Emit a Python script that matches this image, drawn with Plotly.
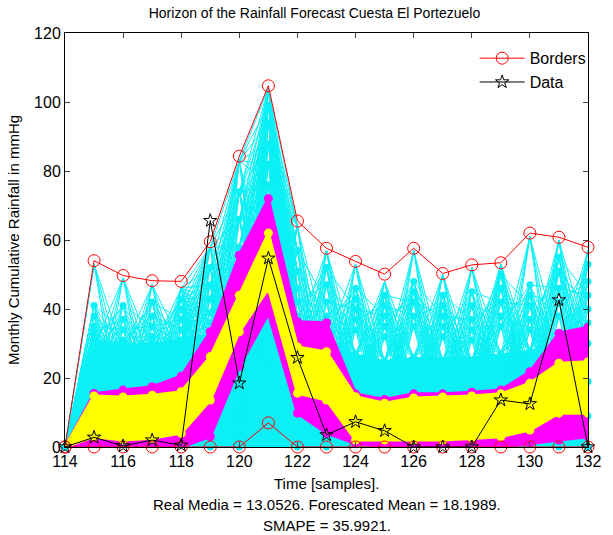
import plotly.graph_objects as go

# ---------------- data ----------------
x = list(range(114, 133))
upper_border = [0, 54.0, 49.7, 48.2, 48.0, 59.5, 84.3, 104.7, 65.5, 57.6, 53.8, 50.1, 57.6, 50.3, 52.8, 53.4, 62.0, 60.8, 57.9]
lower_border = [0, 0, 0, 0, 0, 0, 0, 7.0, 0, 0, 0, 0, 0, 0, 0, 0, 0, 0, 0]
data = [0, 2.8, 0.3, 2.0, 0.5, 65.6, 18.5, 54.7, 25.9, 3.5, 7.3, 4.7, 0, 0, 0, 13.6, 12.5, 42.6, 0]

mag_top = [0, 15.5, 16.5, 17.5, 20.5, 33.4, 55.6, 72.0, 36.3, 36.0, 15.4, 13.8, 15.4, 15.4, 15.9, 16.5, 21.8, 33.0, 34.7]
mag_bot = [0, 0, 0, 0, 0, 3.0, 23.3, 38.7, 9.8, 4.0, 1.0, 0, 0, 0, 0, 0, 1.0, 2.0, 3.0]
yel_top = [0, 14.8, 14.5, 15.0, 16.0, 26.2, 44.0, 62.0, 29.0, 27.6, 14.6, 12.7, 14.2, 14.5, 14.8, 15.4, 18.5, 24.3, 24.7]
yel_bot = [0, 3.0, 2.0, 2.5, 4.0, 13.6, 33.4, 46.0, 15.6, 13.6, 2.0, 2.0, 2.0, 2.0, 2.5, 3.0, 4.9, 9.8, 9.8]

cyan_fill_top = [0, 31, 30, 30, 31, 33, 30, 45, 34, 31, 27, 25, 26, 26, 26, 27, 28, 30, 31]
cyan_peaks = [
    [0, 0, 0, 0, 0, 0],
    [53, 41, 38, 35, 33, 31],
    [49, 41, 37, 34, 31, 29],
    [47, 42, 38, 35, 32, 30],
    [46, 43, 40, 37, 34, 31],
    [58, 52, 47, 43, 39, 36],
    [83, 74, 66, 58, 51, 45],
    [104, 99, 94, 88, 82, 76],
    [64, 57, 51, 46, 42, 38],
    [57, 52, 47, 42, 38, 35],
    [53, 46, 43, 40, 37, 34],
    [48, 44, 41, 38, 35, 32],
    [57, 48, 45, 42, 38, 35],
    [50, 44, 41, 38, 35, 32],
    [52, 45, 41, 37, 34, 31],
    [53, 50, 46, 42, 38, 35],
    [61, 47, 44, 41, 37, 34],
    [60, 55, 51, 46, 42, 38],
    [57, 53, 48, 44, 40, 36],
]
cyan_lows = [
    [0, 0, 0, 0],
    [4, 14, 22, 29],
    [3, 12, 21, 28],
    [4, 13, 21, 28],
    [5, 14, 22, 30],
    [0, 12, 24, 33],
    [0, 6, 14, 30],
    [14, 22, 32, 45],
    [0, 10, 22, 32],
    [0, 8, 18, 30],
    [3, 11, 19, 27],
    [2, 10, 18, 25],
    [2, 10, 18, 26],
    [2, 10, 18, 25],
    [2, 10, 18, 25],
    [3, 11, 19, 27],
    [2, 11, 20, 28],
    [0, 9, 19, 29],
    [0, 9, 19, 30],
]
dense_gaps = [4, 5, 6, 7]  # x-index pairs (i, i+1) densely joined peak to peak

title = "Horizon of the Rainfall Forecast Cuesta El Portezuelo"
xlabel = "Time [samples]."
line2 = "Real Media = 13.0526. Forescated Mean = 18.1989."
line3 = "SMAPE = 35.9921."
ylabel = "Monthly Cumulative Rainfall in mmHg"

CYAN = "rgb(10,240,245)"
MAG = "#ff00ff"
YEL = "#ffff00"

fig = go.Figure()

# solid cyan base
fig.add_trace(go.Scatter(x=x + x[::-1], y=cyan_fill_top + [0] * len(x), fill="toself",
                         fillcolor=CYAN, line=dict(color=CYAN, width=1), mode="lines",
                         hoverinfo="skip", showlegend=False))

# cyan spikes
sx, sy = [], []
n = len(x)
for i in range(1, n):
    for k, h in enumerate(cyan_peaks[i]):
        for j in range(4):
            lx = x[i - 1]
            ly = cyan_lows[i - 1][j]
            if i < n - 1:
                sx += [lx, x[i], x[i + 1], None]
                sy += [ly, h, cyan_lows[i + 1][(j + k + 1) % 4], None]
            else:
                sx += [lx, x[i], None]
                sy += [ly, h, None]
for i in range(n - 1):
    if i in dense_gaps:
        for a in cyan_peaks[i]:
            for b in cyan_peaks[i + 1]:
                sx += [x[i], x[i + 1], None]
                sy += [a, b, None]
    elif i > 0:
        for k in range(1, 6):
            sx += [x[i], x[i + 1], None]
            sy += [cyan_peaks[i][k], cyan_peaks[i + 1][6 - k if k > 1 else 3], None]
fig.add_trace(go.Scatter(x=sx, y=sy, mode="lines", line=dict(color=CYAN, width=1),
                         hoverinfo="skip", showlegend=False))
# cyan dots
dx, dy = [], []
for i in range(n):
    for h in cyan_peaks[i][1:] + cyan_lows[i]:
        dx.append(x[i])
        dy.append(h)
fig.add_trace(go.Scatter(x=dx, y=dy, mode="markers", marker=dict(color=CYAN, size=7),
                         hoverinfo="skip", showlegend=False, cliponaxis=False))

# magenta band
fig.add_trace(go.Scatter(x=x + x[::-1], y=mag_top + mag_bot[::-1], fill="toself",
                         fillcolor=MAG, mode="lines+markers",
                         line=dict(color=MAG, width=3), marker=dict(color=MAG, size=9),
                         hoverinfo="skip", showlegend=False))
# yellow band
fig.add_trace(go.Scatter(x=x + x[::-1], y=yel_top + yel_bot[::-1], fill="toself",
                         fillcolor=YEL, mode="lines+markers",
                         line=dict(color=YEL, width=3), marker=dict(color=YEL, size=9),
                         hoverinfo="skip", showlegend=False))

# borders
fig.add_trace(go.Scatter(x=x, y=upper_border, mode="lines+markers", name="Borders",
                         line=dict(color="red", width=1),
                         marker=dict(symbol="circle-open", size=12, color="red", line=dict(width=1)),
                         cliponaxis=False))
fig.add_trace(go.Scatter(x=x, y=lower_border, mode="lines+markers", name="Borders",
                         line=dict(color="red", width=1), showlegend=False,
                         marker=dict(symbol="circle-open", size=12, color="red", line=dict(width=1)),
                         cliponaxis=False))
# data
fig.add_trace(go.Scatter(x=x, y=data, mode="lines+markers", name="Data",
                         line=dict(color="black", width=1),
                         marker=dict(symbol="star-open", size=10, color="black", line=dict(width=1)),
                         cliponaxis=False))

FONT = "Liberation Sans, Arial, sans-serif"
fig.update_layout(
    width=613, height=535,
    margin=dict(l=65, r=12, t=33, b=88),
    paper_bgcolor="white", plot_bgcolor="white",
    font=dict(family=FONT, color="black", size=15),
    title=dict(text=title, x=0.513, xanchor="center", y=1 - 13 / 535, yanchor="middle",
               font=dict(size=14)),
    legend=dict(x=1.007, xanchor="right", y=0.98, yanchor="top", bgcolor="rgba(0,0,0,0)",
                font=dict(size=16), itemwidth=45, tracegroupgap=0),
    xaxis=dict(range=[114, 132], tickvals=list(range(114, 133, 2)), ticks="inside", ticklen=5,
               showline=True, linecolor="black", linewidth=1, mirror="ticks", showgrid=False,
               zeroline=False, tickfont=dict(size=16), ticklabeloverflow="allow"),
    yaxis=dict(range=[0, 120], tickvals=list(range(0, 121, 20)), ticks="inside", ticklen=5,
               showline=True, linecolor="black", linewidth=1, mirror="ticks", showgrid=False,
               zeroline=False, tickfont=dict(size=16),
               title=dict(text=ylabel, font=dict(size=15), standoff=10)),
    annotations=[
        dict(text=xlabel, xref="paper", yref="paper", x=0.5, y=-(483 - 447) / 414,
             xanchor="center", yanchor="middle", showarrow=False, font=dict(size=15)),
        dict(text=line2, xref="paper", yref="paper", x=0.5, y=-(504 - 447) / 414,
             xanchor="center", yanchor="middle", showarrow=False, font=dict(size=15)),
        dict(text=line3, xref="paper", yref="paper", x=0.5, y=-(525 - 447) / 414,
             xanchor="center", yanchor="middle", showarrow=False, font=dict(size=15)),
    ],
)

fig.write_html("out.html")
